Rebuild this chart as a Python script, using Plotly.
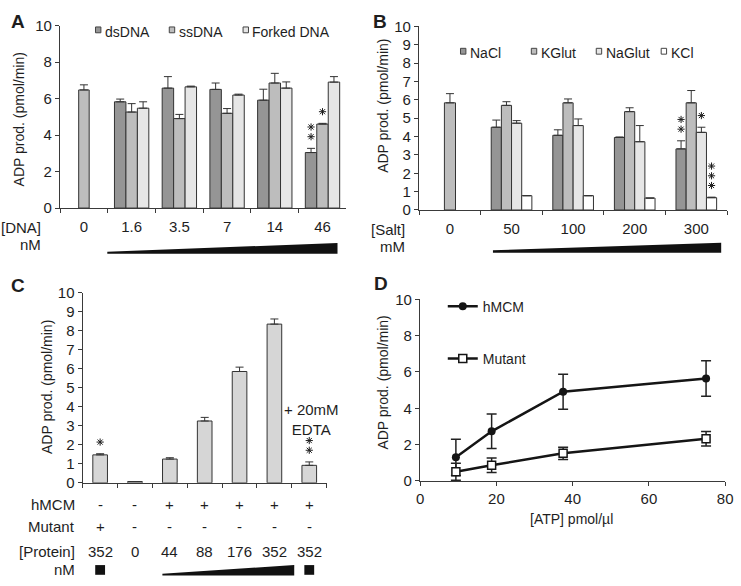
import plotly.graph_objects as go

W, H = 741, 586
FONT = "Liberation Sans, Arial, Helvetica, sans-serif"
TXT = "#1e1e1e"
LINE = "#3a3a3a"

# ---------------- Panel A data ----------------
a_cats = ["0", "1.6", "3.5", "7", "14", "46"]
a_series = ["dsDNA", "ssDNA", "Forked DNA"]
a_ctrl = [6.47]
a_ctrl_err = [0.28]
a_ds = [5.82, 6.57, 6.50, 5.91, 3.04]
a_ds_err = [0.15, 0.63, 0.35, 0.60, 0.23]
a_ss = [5.26, 4.90, 5.19, 6.85, 4.60]
a_ss_err = [0.46, 0.23, 0.26, 0.53, 0.04]
a_fk = [5.47, 6.64, 6.19, 6.57, 6.90]
a_fk_err = [0.35, 0.04, 0.05, 0.34, 0.30]
a_sig = [("46", 0, 2), ("46", 1, 1)]   # (category, series index, number of stars)

# ---------------- Panel B data ----------------
b_cats = ["0", "50", "100", "200", "300"]
b_series = ["NaCl", "KGlut", "NaGlut", "KCl"]
b_ctrl = [5.84]
b_ctrl_err = [0.50]
b_nacl = [4.51, 4.07, 3.95, 3.33]
b_nacl_err = [0.39, 0.30, 0.03, 0.44]
b_kglut = [5.70, 5.84, 5.36, 5.84]
b_kglut_err = [0.20, 0.21, 0.21, 0.67]
b_naglut = [4.73, 4.60, 3.72, 4.23]
b_naglut_err = [0.14, 0.36, 0.88, 0.28]
b_kcl = [0.78, 0.78, 0.65, 0.67]
b_kcl_err = [0.0, 0.0, 0.0, 0.03]
b_sig = [("300", 0, 2), ("300", 2, 1), ("300", 3, 3)]

# ---------------- Panel C data ----------------
c_lanes = ["L1", "L2", "L3", "L4", "L5", "L6", "L7"]
c_vals = [1.47, 0.07, 1.25, 3.25, 5.85, 8.34, 0.92]
c_err = [0.06, 0.0, 0.07, 0.19, 0.23, 0.27, 0.18]
c_hmcm = ["-", "-", "+", "+", "+", "+", "+"]
c_mutant = ["+", "-", "-", "-", "-", "-", "-"]
c_protein = ["352", "0", "44", "88", "176", "352", "352"]
c_sig = [(0, 1), (6, 2)]   # (lane index, number of stars)

# ---------------- Panel D data ----------------
d_atp = [9.375, 18.75, 37.5, 75]
d_hmcm = [1.30, 2.73, 4.91, 5.64]
d_hmcm_err = [1.00, 0.95, 0.97, 0.98]
d_mut = [0.50, 0.86, 1.52, 2.32]
d_mut_err = [0.47, 0.40, 0.34, 0.40]

# ---------------- colours ----------------
C_DARK = "#959595"
C_MID = "#bdbdbd"
C_LIGHT = "#e6e6e6"
C_WHITE = "#ffffff"
C_C = "#d6d6d6"


def fx(p):
    return p / W


def fy(p):
    return 1 - p / H


# panel geometry in pixels: left, right, bottom(y=0), top(y=10)
GEO = {
    "A": (57, 348, 205, 17),
    "B": (422, 735, 207, 18),
    "C": (80, 328, 488, 292),
    "D": (423, 733, 486, 299),
}

fig = go.Figure()
ERR = dict(color="#333333", thickness=1, width=4)


def add_group_bars(cats, series_vals, series_errs, colors, xa, ya, w):
    n = len(series_vals)
    for i, (vals, errs, col) in enumerate(zip(series_vals, series_errs, colors)):
        fig.add_trace(go.Bar(
            x=cats[1:], y=vals, xaxis=xa, yaxis=ya,
            width=w, offset=-n * w / 2 + i * w,
            marker=dict(color=col, line=dict(color="#333333", width=1)),
            error_y=dict(type="data", symmetric=False, array=errs,
                         arrayminus=[0] * len(errs), **ERR),
            showlegend=False, cliponaxis=False, hoverinfo="skip",
        ))


def add_ctrl_bar(cats, val, err, col, xa, ya, w):
    fig.add_trace(go.Bar(
        x=cats[:1], y=val, xaxis=xa, yaxis=ya, width=w, offset=-w / 2,
        marker=dict(color=col, line=dict(color="#333333", width=1)),
        error_y=dict(type="data", symmetric=False, array=err, arrayminus=[0], **ERR),
        showlegend=False, cliponaxis=False, hoverinfo="skip",
    ))


# Panel A bars
WA = 0.24
add_ctrl_bar(a_cats, a_ctrl, a_ctrl_err, C_MID, "x", "y", 0.22)
add_group_bars(a_cats, [a_ds, a_ss, a_fk], [a_ds_err, a_ss_err, a_fk_err],
               [C_DARK, C_MID, C_LIGHT], "x", "y", WA)

# Panel B bars
WB = 0.165
add_ctrl_bar(b_cats, b_ctrl, b_ctrl_err, C_MID, "x2", "y2", 0.18)
add_group_bars(b_cats, [b_nacl, b_kglut, b_naglut, b_kcl],
               [b_nacl_err, b_kglut_err, b_naglut_err, b_kcl_err],
               [C_DARK, C_MID, C_LIGHT, C_WHITE], "x2", "y2", WB)

# Panel C bars
WC = 0.42
fig.add_trace(go.Bar(
    x=c_lanes, y=c_vals, xaxis="x3", yaxis="y3", width=WC,
    marker=dict(color=C_C, line=dict(color="#333333", width=1)),
    error_y=dict(type="data", symmetric=False, array=c_err,
                 arrayminus=[0] * len(c_err), **ERR),
    showlegend=False, cliponaxis=False, hoverinfo="skip",
))

# Panel D lines
fig.add_trace(go.Scatter(
    x=d_atp, y=d_hmcm, xaxis="x4", yaxis="y4", name="hMCM", legendgroup="h",
    mode="lines+markers", line=dict(color="#151515", width=2.5),
    marker=dict(symbol="circle", size=8, color="#151515"),
    error_y=dict(type="data", array=d_hmcm_err, color="#222222", thickness=1.5, width=5),
    cliponaxis=False,
))
fig.add_trace(go.Scatter(
    x=d_atp, y=d_mut, xaxis="x4", yaxis="y4", name="Mutant", legendgroup="m",
    mode="lines+markers", line=dict(color="#151515", width=2.5),
    marker=dict(symbol="square", size=8, color="white", line=dict(color="#151515", width=1.5)),
    error_y=dict(type="data", array=d_mut_err, color="#222222", thickness=1.5, width=5),
    cliponaxis=False,
))


# ---- significance asterisks as markers on hidden linear overlay axes
def star_trace(g, xa, ya, pts):
    l, r, b, t = GEO[g]
    ppu = (b - t) / 10.0          # pixels per y unit
    xs, ys = [], []
    for xpos, cap, cnt in pts:
        for k in range(cnt):
            xs.append(xpos)
            ys.append(cap + (12 + 10 * k) / ppu)
    fig.add_trace(go.Scatter(
        x=xs, y=ys, xaxis=xa, yaxis=ya, mode="markers", showlegend=False,
        hoverinfo="skip", cliponaxis=False,
        marker=dict(symbol="asterisk-open", size=6, color=TXT,
                    line=dict(color=TXT, width=1))))


a_vals = [a_ds, a_ss, a_fk]
a_errs = [a_ds_err, a_ss_err, a_fk_err]
pts = []
for cat, si, cnt in a_sig:
    ci = a_cats.index(cat)
    off = -len(a_vals) * WA / 2 + (si + 0.5) * WA
    pts.append((ci + off, a_vals[si][ci - 1] + a_errs[si][ci - 1], cnt))
star_trace("A", "x5", "y", pts)

b_vals = [b_nacl, b_kglut, b_naglut, b_kcl]
b_errs = [b_nacl_err, b_kglut_err, b_naglut_err, b_kcl_err]
pts = []
for cat, si, cnt in b_sig:
    ci = b_cats.index(cat)
    off = -len(b_vals) * WB / 2 + (si + 0.5) * WB
    pts.append((ci + off, b_vals[si][ci - 1] + b_errs[si][ci - 1], cnt))
star_trace("B", "x6", "y2", pts)

pts = [(li, c_vals[li] + c_err[li], cnt) for li, cnt in c_sig]
star_trace("C", "x7", "y3", pts)


def xax(g, **kw):
    l, r, b, t = GEO[g]
    d = dict(domain=[fx(l), fx(r)], showline=True, linecolor=LINE, linewidth=1.2,
             ticks="outside", ticklen=4, tickcolor=LINE, tickwidth=1,
             showgrid=False, zeroline=False, fixedrange=True,
             ticklabeloverflow="allow",
             tickfont=dict(family=FONT, size=15, color=TXT))
    d.update(kw)
    return d


def yax(g, **kw):
    l, r, b, t = GEO[g]
    d = dict(domain=[fy(b), fy(t)], range=[0, 10], showline=True, linecolor=LINE,
             linewidth=1.2, ticks="outside", ticklen=4, tickcolor=LINE, tickwidth=1,
             showgrid=False, zeroline=False, fixedrange=True,
             ticklabeloverflow="allow",
             tickfont=dict(family=FONT, size=15, color=TXT))
    d.update(kw)
    return d


def hidden_x(g, over, anchor, n):
    l, r, b, t = GEO[g]
    return dict(domain=[fx(l), fx(r)], overlaying=over, anchor=anchor,
                range=[-0.5, n - 0.5], visible=False, fixedrange=True)


annotations = []
shapes = []


def text(xp, yp, s, size=15, xanchor="center", bold=False, **kw):
    annotations.append(dict(
        x=fx(xp), y=fy(yp), xref="paper", yref="paper", text=f"<b>{s}</b>" if bold else s,
        showarrow=False, xanchor=xanchor, yanchor="middle",
        font=dict(family=FONT, size=size, color=TXT), **kw))


def wedge(x0, x1, ybot, ythin, ythick):
    path = (f"M{fx(x0)},{fy(ybot)} L{fx(x1)},{fy(ybot)} "
            f"L{fx(x1)},{fy(ythick)} L{fx(x0)},{fy(ythin)} Z")
    shapes.append(dict(type="path", path=path, xref="paper", yref="paper",
                       fillcolor="#111111", line=dict(width=0)))


def rect(x0, y0, x1, y1, fill, lc="#444444", lw=1):
    shapes.append(dict(type="rect", x0=fx(x0), x1=fx(x1), y0=fy(y1), y1=fy(y0),
                       xref="paper", yref="paper", fillcolor=fill,
                       line=dict(color=lc, width=lw)))


# ---- panel letters
text(14, 13, "A", size=19, bold=True)
text(382, 13, "B", size=19, bold=True)
text(14, 285, "C", size=19, bold=True)
text(383, 283, "D", size=19, bold=True)

# ---- y-axis titles
YT = "ADP prod. (pmol/min)"
for xp, yp in [(15, 114), (385, 100), (43, 389), (385, 385)]:
    text(xp, yp, YT, size=14, textangle=-90)

# ---- panel A legend & labels
for (xp, name, col) in zip([93, 168, 243], a_series, [C_DARK, C_MID, C_LIGHT]):
    rect(xp, 18.5, xp + 5.5, 24.5, col)
    text(xp + 7.5, 24, name, size=14, xanchor="left")
text(40, 225, "[DNA]", xanchor="right")
text(40, 243, "nM", xanchor="right")
wedge(105, 339, 252, 250, 241)

# ---- panel B legend & labels
for (xp, name, col) in zip([464, 536, 602, 668], b_series, [C_DARK, C_MID, C_LIGHT, C_WHITE]):
    rect(xp, 40.5, xp + 5.5, 46.5, col)
    text(xp + 7.5, 45, name, size=14, xanchor="left")
text(410, 227, "[Salt]", xanchor="right")
text(410, 245, "mM", xanchor="right")
wedge(497, 729, 251, 248.5, 240.7)

# ---- panel C table
lC, rC, bC, tC = GEO["C"]
ncat = len(c_lanes)
lane_x = [lC + (i + 0.5) * (rC - lC) / ncat for i in range(ncat)]
for label, row, yp in [("hMCM", c_hmcm, 510), ("Mutant", c_mutant, 533),
                       ("[Protein]", c_protein, 559)]:
    text(74, yp, label, xanchor="right")
    for xp, s in zip(lane_x, row):
        text(xp, yp, s)
text(74, 577, "nM", xanchor="right")
for i in (0, ncat - 1):
    rect(lane_x[i] - 5, 572.7, lane_x[i] + 5, 582.7, "#111111", lc="#111111", lw=0)
wedge(161, 295, 583.3, 581.7, 572.7)
text(313, 423, "+ 20mM<br>EDTA")

# ---- panel D x title
text(577, 525, "[ATP] pmol/µl", size=14)

fig.update_layout(
    width=W, height=H, margin=dict(l=0, r=0, t=0, b=0),
    paper_bgcolor="white", plot_bgcolor="white",
    barmode="overlay",
    font=dict(family=FONT, color=TXT),
    xaxis=xax("A", type="category", range=[-0.5, 5.5], tickson="boundaries",
              ticklabelstandoff=5, anchor="y"),
    yaxis=yax("A", dtick=2, anchor="x"),
    xaxis2=xax("B", type="category", range=[-0.5, 4.5], tickson="boundaries",
               ticklabelstandoff=5, anchor="y2"),
    yaxis2=yax("B", dtick=1, anchor="x2"),
    xaxis3=xax("C", type="category", range=[-0.5, 6.5], tickson="boundaries",
               showticklabels=False, anchor="y3"),
    yaxis3=yax("C", dtick=1, anchor="x3"),
    xaxis4=xax("D", range=[0, 80], dtick=20, anchor="y4"),
    yaxis4=yax("D", dtick=2, anchor="x4"),
    xaxis5=hidden_x("A", "x", "y", len(a_cats)),
    xaxis6=hidden_x("B", "x2", "y2", len(b_cats)),
    xaxis7=hidden_x("C", "x3", "y3", len(c_lanes)),
    showlegend=True,
    legend=dict(x=fx(446), y=fy(290), xanchor="left", yanchor="top",
                bgcolor="rgba(0,0,0,0)", tracegroupgap=31, traceorder="grouped",
                font=dict(family=FONT, size=14, color=TXT)),
    annotations=annotations, shapes=shapes,
)

fig.write_html("out.html", config={"displayModeBar": False, "staticPlot": True},
               post_script="document.body.style.margin='0';"
                           "document.body.style.overflow='hidden';")
